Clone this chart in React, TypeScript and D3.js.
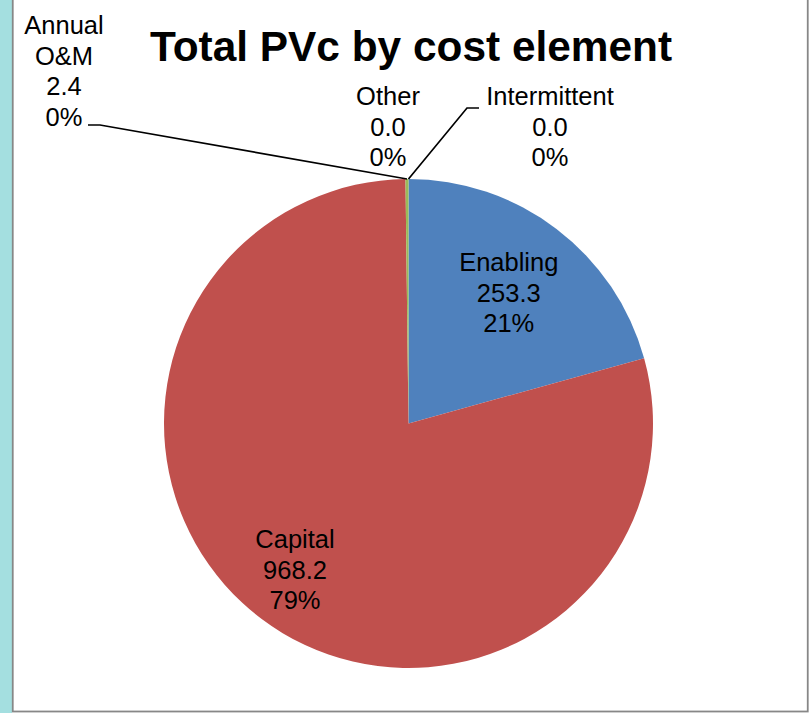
import React from "react";
import * as d3 from "d3";

const categories = ["Enabling", "Capital", "Annual O&M", "Other", "Intermittent"];
const values = [253.3, 968.2, 2.4, 0.0, 0.0];
const percentLabels = ["21%", "79%", "0%", "0%", "0%"];
const colors = ["#4F81BD", "#C0504D", "#9BBB59", "#8064A2", "#4BACC6"];
const title = "Total PVc by cost element";

const W = 811;
const H = 713;
const CX = 408.5;
const CY = 423.5;
const R = 244.5;
const FONT = "'Liberation Sans', Arial, Helvetica, sans-serif";
const FS = 25.5;
const LH = 30.5;

// label layout (positions only)
type Layout =
  | { kind: "inside"; radius: number; dx: number; dy: number }
  | { kind: "outside"; x: number; baseline: number; leader?: [number, number][] };

const layouts: Layout[] = [
  { kind: "inside", radius: 164, dx: 1, dy: 0 },
  { kind: "inside", radius: 184, dx: -3, dy: -1 },
  { kind: "outside", x: 64, baseline: 34, leader: [[88, 125], [100, 125]] },
  { kind: "outside", x: 388, baseline: 105 },
  { kind: "outside", x: 550, baseline: 105, leader: [[479, 108], [467, 108]] },
];

export default function App() {
  const data = categories.map((c, i) => ({ name: c, value: values[i], pct: percentLabels[i], color: colors[i] }));
  const pie = d3
    .pie<(typeof data)[number]>()
    .sort(null)
    .value((d) => d.value)
    .startAngle(0)
    .endAngle(2 * Math.PI);
  const arcs = pie(data);
  const arcGen = d3.arc<d3.PieArcDatum<(typeof data)[number]>>().innerRadius(0).outerRadius(R);

  return (
    <svg
      width={W}
      height={H}
      style={{ position: "absolute", left: 0, top: 0, background: "#fff" }}
      fontFamily={FONT}
    >
      <rect x={0} y={0} width={12} height={H} fill="#A4DFE0" />
      <rect x={12.75} y={-5} width={795} height={716.5} fill="#fff" stroke="#878787" strokeWidth={1.8} />
      <text x={411} y={60.5} textAnchor="middle" fontSize={42.4} fontWeight="bold" fill="#000">
        {title}
      </text>
      <g transform={`translate(${CX},${CY})`}>
        {arcs.map((a, i) =>
          a.value > 0 ? <path key={i} d={arcGen(a) || ""} fill={a.data.color} /> : null
        )}
      </g>
      {arcs.map((a, i) => {
        const lay = layouts[i];
        const lines = [a.data.name, a.data.value.toFixed(1), a.data.pct];
        if (lay.kind === "inside") {
          const [lx, ly] = d3.arc<any>().innerRadius(lay.radius).outerRadius(lay.radius).centroid(a);
          const x = CX + lx + lay.dx;
          const mid = CY + ly + 9 + lay.dy;
          return (
            <text key={i} textAnchor="middle" fontSize={FS} fill="#000">
              {lines.map((t, k) => (
                <tspan key={k} x={x} y={mid + (k - 1) * LH}>
                  {t}
                </tspan>
              ))}
            </text>
          );
        }
        const edge = d3.arc<any>().innerRadius(R).outerRadius(R).centroid(a);
        const ex = CX + edge[0];
        const ey = CY + edge[1];
        const nameLines = a.data.name === "Annual O&M" ? ["Annual", "O&M"] : [a.data.name];
        const all = [...nameLines, lines[1], lines[2]];
        return (
          <g key={i}>
            {lay.leader ? (
              <polyline
                points={[...lay.leader, [ex, ey]].map((p) => p.join(",")).join(" ")}
                fill="none"
                stroke="#000"
                strokeWidth={1.7}
              />
            ) : null}
            <text textAnchor="middle" fontSize={FS} fill="#000">
              {all.map((t, k) => (
                <tspan key={k} x={lay.x} y={lay.baseline + k * LH}>
                  {t}
                </tspan>
              ))}
            </text>
          </g>
        );
      })}
    </svg>
  );
}
